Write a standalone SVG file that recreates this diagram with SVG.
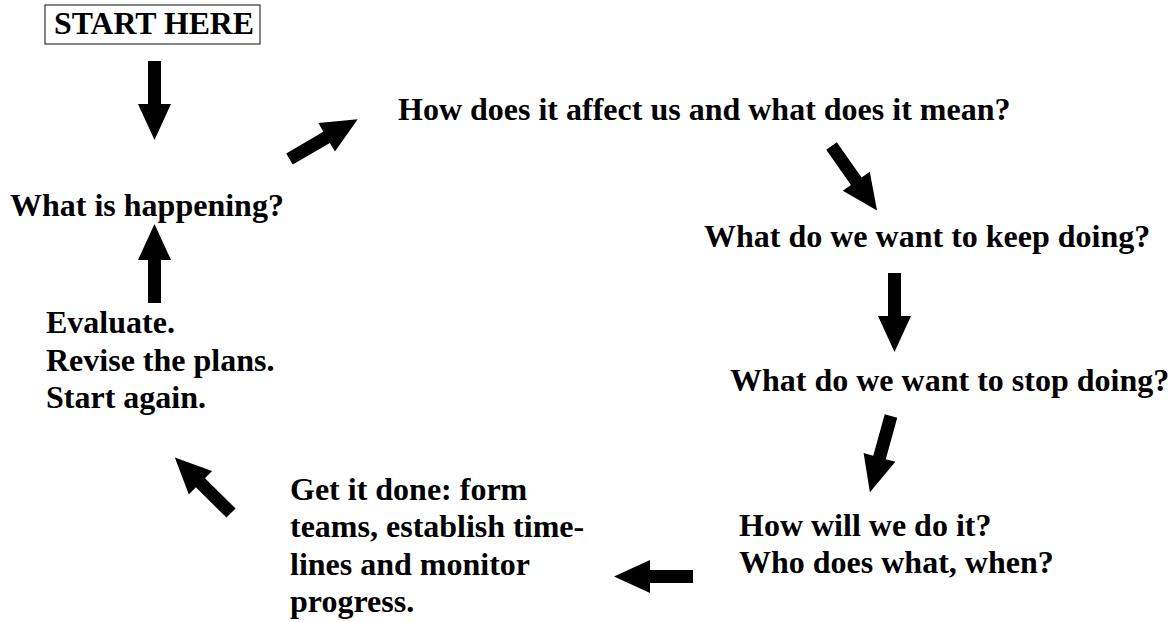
<svg xmlns="http://www.w3.org/2000/svg" xmlns:xlink="http://www.w3.org/1999/xlink" width="1171" height="622" viewBox="0 0 1171 622">
  <style>
    .t { font-family: "Liberation Serif", "Times New Roman", serif; font-weight: bold; font-size: 32px; fill: #000; }
    .start { font-size: 31.8px; }
    .box { fill: #fff; stroke: #333; stroke-width: 1.2; }
    .arrow { fill: #000; }
  </style>
  <defs>
    <!-- block arrow pointing right: tail centre at origin, tip at x=79 -->
    <polygon id="blk" class="arrow" points="0,-6.5 43,-6.5 43,-16.5 79,0 43,16.5 43,6.5 0,6.5"/>
  </defs>
  <rect width="1171" height="622" fill="#fff"/>

  <g id="start-here">
    <rect class="box" x="45" y="5" width="215" height="39"/>
    <text class="t start" x="54" y="34">START HERE</text>
  </g>

  <g id="what-is-happening">
    <text class="t" x="10" y="216">What is happening?</text>
  </g>

  <g id="how-does-it-affect">
    <text class="t" x="398" y="120">How does it affect us and what does it mean?</text>
  </g>

  <g id="keep-doing">
    <text class="t" x="704" y="247">What do we want to keep doing?</text>
  </g>

  <g id="stop-doing">
    <text class="t" x="730" y="391">What do we want to stop doing?</text>
  </g>

  <g id="how-will-we">
    <text class="t" x="739" y="536">How will we do it?</text>
    <text class="t" x="739" y="573">Who does what, when?</text>
  </g>

  <g id="get-it-done">
    <text class="t" x="290" y="500">Get it done: form</text>
    <text class="t" x="290" y="537">teams, establish time-</text>
    <text class="t" x="290" y="575">lines and monitor</text>
    <text class="t" x="290" y="612">progress.</text>
  </g>

  <g id="evaluate">
    <text class="t" x="46" y="333">Evaluate.</text>
    <text class="t" x="46" y="371">Revise the plans.</text>
    <text class="t" x="46" y="408">Start again.</text>
  </g>

  <g id="connectors">
    <use xlink:href="#blk" transform="translate(154.5,61) rotate(90)"/>
    <use xlink:href="#blk" transform="translate(289.5,159) rotate(-30.3)"/>
    <use xlink:href="#blk" transform="translate(831.5,146) rotate(54.8)"/>
    <use xlink:href="#blk" transform="translate(894.5,273) rotate(90)"/>
    <use xlink:href="#blk" transform="translate(891,416) rotate(105.5)"/>
    <use xlink:href="#blk" transform="translate(693,576.5) rotate(180)"/>
    <use xlink:href="#blk" transform="translate(231,513) rotate(-135.3)"/>
    <use xlink:href="#blk" transform="translate(154.5,303) rotate(-90)"/>
  </g>
</svg>
